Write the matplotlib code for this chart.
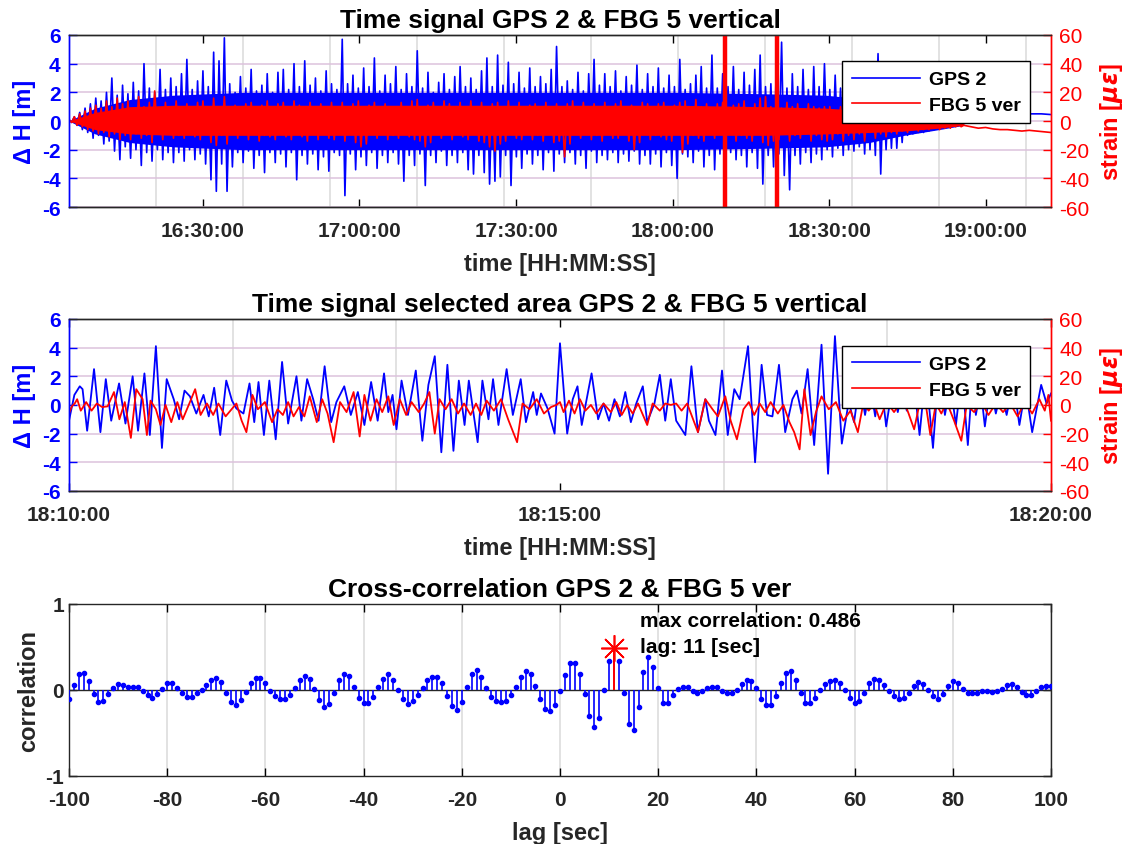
import numpy as np
import matplotlib
matplotlib.use("Agg")
import matplotlib.pyplot as plt
import matplotlib.dates as mdates
from matplotlib.ticker import FixedLocator
from matplotlib.lines import Line2D
from datetime import datetime, timedelta

plt.rcParams['font.family'] = ['Liberation Sans', 'DejaVu Sans']
plt.rcParams['font.weight'] = 'bold'
plt.rcParams['axes.titleweight'] = 'bold'
plt.rcParams['axes.labelweight'] = 'bold'
plt.rcParams['axes.unicode_minus'] = False
plt.rcParams['mathtext.fontset'] = 'dejavusans'

BLUE = '#0000ff'
RED = '#ff0000'
DARK = '#262626'
VGRID = '#dadada'
HGRID = '#dcc2dc'

# ---------------------------------------------------------------- data
day = datetime(2000, 1, 1)
overview_start = day + timedelta(hours=16, minutes=4, seconds=20)
overview_span_s = 11290          # length of the full record [s]
overview_step_s = 61.6           # one swing (peak + trough) per step [s]
overview_grid_s = 1000           # secondary grid spacing [s]

# GPS 2 vertical displacement: peak / trough of each swing [m]
gps_hi = [0.1, 0.3, 0.6, 0.9, 1.2, 1.6, 1.4, 2.0, 3.0, 1.8,
          2.5, 1.9, 2.7, 2.1, 4.0, 2.3, 2.0, 3.6, 2.2, 3.0,
          2.4, 3.3, 4.3, 2.2, 2.8, 3.5, 2.4, 4.8, 4.2, 5.8,
          2.6, 2.0, 3.1, 2.3, 3.6, 2.1, 2.5, 3.3, 2.0, 3.4,
          3.6, 2.2, 4.0, 2.4, 4.2, 2.5, 3.0, 2.1, 3.5, 2.6,
          2.2, 5.7, 2.6, 3.2, 2.3, 3.7, 2.4, 4.4, 2.1, 3.2,
          2.6, 3.8, 2.2, 3.3, 2.4, 4.9, 2.3, 3.4, 2.0, 2.7,
          3.3, 2.2, 3.1, 3.8, 2.4, 3.0, 2.2, 3.5, 4.4, 2.4,
          4.6, 2.5, 4.1, 2.6, 3.4, 2.3, 3.7, 2.4, 3.1, 2.6,
          3.6, 5.2, 2.4, 2.8, 2.2, 3.4, 2.1, 3.3, 4.3, 2.5,
          3.3, 2.4, 3.5, 2.1, 3.1, 2.5, 3.9, 2.2, 3.3, 2.4,
          3.7, 2.3, 3.2, 2.4, 4.3, 2.2, 2.6, 3.2, 3.8, 2.3,
          4.6, 2.3, 3.3, 2.4, 3.8, 2.2, 3.4, 2.5, 3.6, 4.6,
          2.4, 2.6, 3.5, 5.5, 2.3, 3.3, 2.4, 3.6, 2.2, 3.8,
          2.4, 4.0, 2.2, 3.2, 2.3, 2.8, 2.1, 3.0, 2.0, 2.5,
          2.3, 4.7, 2.4, 2.2, 2.0, 1.7, 1.3, 1.1, 1.0, 0.9,
          0.8, 0.7, 0.6, 0.6, 0.5, 0.5, 0.5]
gps_lo = [-0.1, -0.3, -0.6, -0.8, -1.2, -1.0, -1.6, -1.4, -2.1, -2.7,
          -1.8, -2.6, -2.0, -3.1, -2.2, -2.8, -2.0, -2.7, -2.2, -2.9,
          -2.2, -2.8, -2.0, -2.7, -2.3, -3.0, -4.1, -4.9, -3.0, -4.9,
          -3.2, -2.2, -2.9, -2.1, -3.3, -2.4, -3.6, -2.2, -2.9, -2.3,
          -3.2, -2.2, -4.1, -2.4, -3.0, -2.3, -3.4, -2.5, -3.5, -2.2,
          -2.4, -5.2, -2.3, -3.4, -2.5, -3.1, -2.2, -3.3, -2.4, -2.9,
          -2.2, -3.0, -4.2, -2.4, -3.1, -2.3, -4.5, -2.4, -2.9, -2.1,
          -3.1, -2.4, -2.9, -2.2, -3.4, -3.7, -2.4, -3.6, -4.4, -4.2,
          -3.9, -2.4, -4.5, -2.5, -3.3, -2.3, -3.0, -2.4, -3.4, -2.2,
          -3.5, -2.3, -2.9, -2.2, -3.0, -2.4, -3.3, -2.1, -2.9, -2.4,
          -2.7, -2.2, -2.9, -2.3, -2.8, -2.1, -3.0, -2.4, -3.0, -2.3,
          -3.2, -2.2, -3.1, -4.0, -2.3, -2.5, -2.9, -2.1, -3.2, -2.4,
          -3.4, -2.3, -2.7, -2.2, -2.7, -2.4, -3.2, -2.2, -3.3, -4.4,
          -2.4, -3.2, -2.3, -3.8, -4.8, -2.4, -3.0, -2.2, -2.9, -2.3,
          -2.7, -2.0, -2.5, -1.9, -2.4, -2.0, -2.1, -1.8, -2.3, -2.0,
          -2.4, -3.7, -2.0, -1.9, -1.9, -1.5, -1.0, -0.9, -0.8, -0.8,
          -0.7, -0.6, -0.5, -0.4, -0.3, -0.2, -0.1]
gps_tail = [0.5, 0.45, 0.5, 0.55, 0.5, 0.5, 0.45, 0.5, 0.5, 0.45]

# FBG 5 vertical strain: peak / trough of each swing [micro-strain]
fbg_hi = [1, 3, 5, 7, 9, 11, 9, 14, 10, 16, 12,
          14, 9, 17, 10, 13, 21, 9, 13, 10, 14,
          9, 12, 8, 13, 14, 9, 16, 10, 17, 9,
          11, 8, 12, 13, 9, 11, 14, 8, 12, 13,
          9, 14, 11, 8, 13, 10, 12, 8, 13, 9,
          13, 9, 12, 14, 8, 11, 13, 9, 12, 10,
          8, 13, 10, 14, 15, 9, 11, 13, 8, 14,
          12, 9, 13, 8, 14, 10, 13, 9, 12, 13,
          9, 14, 10, 13, 8, 11, 12, 9, 13, 10, 12,
          8, 12, 14, 9, 13, 10, 12, 8, 13, 10,
          12, 14, 9, 11, 8, 13, 12, 9, 12, 13,
          8, 11, 13, 14, 9, 15, 10, 12, 9, 12,
          13, 9, 11, 12, 14, 9, 12, 16, 17, 10,
          12, 9, 13, 10, 12, 8, 12, 10, 9, 10,
          10, 7, 10, 8, 9, 7, 8, 6, 8, 6,
          6, 5, 5, 4, 4, 3, 3, 2, 2, 2,
          1, 1, 0, 0, -1]
fbg_lo = [-1, -3, -4, -6, -7, -9, -8, -11, -9, -13, -10,
          -13, -9, -12, -10, -15, -9, -13, -8, -12, -10,
          -12, -8, -11, -13, -9, -15, -17, -10, -16, -9,
          -12, -9, -13, -8, -14, -10, -11, -13, -8, -11,
          -13, -9, -11, -14, -9, -13, -8, -12, -13, -9,
          -14, -9, -15, -18, -16, -9, -12, -8, -13, -10,
          -12, -9, -11, -13, -14, -18, -15, -9, -12, -8,
          -13, -9, -11, -13, -8, -14, -15, -18, -21, -16,
          -14, -9, -12, -13, -8, -13, -10, -14, -9, -15, -14,
          -25, -16, -9, -12, -8, -13, -10, -14, -9, -12,
          -12, -9, -14, -20, -15, -9, -13, -10, -11, -13,
          -14, -9, -22, -16, -10, -12, -14, -9, -12, -8,
          -13, -9, -14, -10, -12, -14, -9, -15, -17, -14,
          -13, -9, -14, -10, -12, -9, -14, -10, -13, -14,
          -13, -9, -14, -10, -13, -9, -14, -8, -12, -9,
          -11, -8, -9, -7, -8, -6, -7, -6, -6, -5,
          -6, -5, -5, -4, -4]
fbg_tail = [-3, -4, -5, -4.5, -5.5, -6, -6, -6.5, -7, -6.5, -7, -7.5, -8]

# extent of the densely filled band of each record
core_t = [0, 300, 700, 1200, 2000, 3000, 4000, 5000, 6000, 7000, 8000,
          8700, 9200, 9600, 10000, 10287]
gps_core = [0, 0.9, 1.5, 1.8, 2.0, 2.0, 2.0, 2.0, 2.0, 2.0, 1.9,
            1.8, 1.5, 1.0, 0.6, 0.3]
fbg_core_hi = [0, 6, 10, 11, 11, 11, 11, 11, 11, 11, 10, 9, 7, 5, 3, 0]
fbg_core_lo = [0, -6, -9, -10, -10, -10, -10, -10, -10, -10, -10, -9, -8, -7, -5, -3]

# selected ten-minute window
window_start = day + timedelta(hours=18, minutes=10)
window_span_s = 600
window_grid_s = 100

gps_win_t = [0.0, 3.3, 6.6, 8.3, 11.1, 15.3, 19.2, 22.5, 25.8, 30.6,
             34.5, 38.9, 42.2, 46.1, 49.4, 53.1, 56.8, 59.7, 64.0, 67.3,
             70.6, 73.9, 77.8, 82.2, 85.4, 88.7, 92.4, 96.1, 99.6, 102.3,
             106.6, 110.3, 113.2, 115.8, 119.1, 122.4, 126.3, 130.2, 133.9, 139.0,
             142.0, 145.5, 149.2, 152.5, 156.2, 160.2, 163.4, 168.2, 172.2, 176.5,
             180.5, 184.6, 188.6, 192.5, 195.1, 197.7, 200.1, 203.2, 207.1, 211.9,
             215.9, 219.6, 223.5, 227.5, 231.2, 234.9, 238.2, 241.7, 244.3, 249.7,
             252.6, 256.3, 259.1, 262.4, 267.4, 271.2, 276.0, 279.2, 283.6, 285.8,
             288.4, 292.4, 296.7, 300.0,
             304.4, 307.8, 310.7, 313.3, 319.3, 323.3, 326.6, 330.0, 333.3, 336.6,
             339.9, 343.3, 346.6, 350.6, 353.3, 357.7, 361.0, 364.3, 367.7, 371.0,
             376.6, 380.3, 384.3, 388.8, 391.0, 395.0, 399.0, 402.5, 406.5, 409.8,
             414.9, 419.2, 423.2, 426.5, 429.8, 433.8, 437.6, 442.0, 444.7, 447.6,
             451.3, 455.3, 459.8, 463.8, 468.0, 472.2, 476.4,
             479.7, 483.0, 486.4, 489.5, 492.6, 496.0, 499.3, 503.0, 506.4, 509.0,
             511.9, 516.0, 519.7, 523.5, 527.9, 531.5, 535.2, 538.5, 541.9, 545.5,
             549.2, 552.0, 554.1, 557.0, 559.6, 563.0, 566.3, 569.5, 572.9, 577.0,
             580.7, 584.5, 588.5, 594.0, 597.3, 600.0]
gps_win_v = [-1.1, 0.7, 1.3, 1.1, -1.8, 2.5, -1.9, 1.8, -1.1, 1.5,
             -1.3, 2.0, -1.8, 2.2, -2.1, 4.1, -3.0, 1.8, 0.4, -1.0,
             1.0, 0.6, -0.6, 0.7, -0.8, 1.2, -2.1, 1.7, 0.3, -0.25,
             -0.6, 1.5, -1.2, 1.6, -2.1, 1.7, -2.4, 3.0, -1.3, 2.0,
             -1.1, 1.8, 0.4, -1.1, 2.7, -1.2, 0.2, 1.3, -0.7, 0.9,
             -1.4, 1.6, -1.1, 2.2, -0.5, 0.7, -1.7, 1.7, -0.7, 2.4,
             -2.5, 1.4, 3.4, -3.3, 2.8, -3.2, 1.7, -1.4, 1.7, -2.6,
             1.7, -1.0, 1.8, -1.4, 2.5, -0.7, 1.8, -1.2, 0.9, -0.7,
             0.8, -0.25, -2.0, 4.3,
             -2.0, 0.4, 1.3, -1.4, 2.2, -1.0, 0.1, -1.1, 0.4, -0.8,
             0.9, -1.2, 0.1, 1.3, -1.2, 0.1, 2.1, -1.1, 1.8, -1.1,
             -2.1, 2.7, -1.9, 0.4, -1.1, -2.1, 2.4, -2.1, 1.1, 0.4,
             4.1, -4.0, 2.8, -0.7, -0.8, 2.8, -1.9, 0.4, 1.0, -0.6,
             2.5, -2.8, 4.2, -4.8, 4.8, -2.7, 0.2,
             -1.2, 1.6, -0.7, 1.4, -0.8, 1.8, -1.5, 1.2, -0.5, 1.0,
             -0.4, 1.9, -2.1, 2.4, -3.0, 2.6, -0.7, 1.5, -1.4, 2.2,
             -2.8, 1.8, -0.7, 1.2, -1.5, 1.4, -0.6, 1.0, -0.7, 1.6,
             -1.4, 1.2, -1.9, 1.4, 0.1, 0.8]

fbg_win_t = [0.0, 1.7, 3.5, 5.0, 7.2, 10.5, 13.8, 17.0, 20.3, 23.6,
             27.5, 30.8, 34.1, 37.8, 41.1, 45.0, 47.6, 49.8, 53.1, 55.9,
             59.0, 62.5, 66.2, 69.5, 73.9, 77.1, 80.4, 84.3, 88.1, 91.3,
             95.7, 102.3, 105.5, 108.4, 112.1, 115.4, 119.7, 124.1, 127.4, 130.7,
             133.9, 137.2, 140.5, 143.8, 147.1, 151.4, 154.7, 158.0, 161.7, 165.6,
             169.6, 173.9, 177.6, 180.5, 184.2, 187.9, 191.4, 195.1, 198.4, 202.1,
             206.0, 209.3, 213.7, 217.0, 220.2, 223.5, 226.4, 230.1, 233.8, 237.7,
             241.4, 245.4, 248.7, 251.9, 255.2, 259.6, 264.0, 268.3, 273.8, 277.1,
             281.4, 285.8, 290.2, 294.5, 297.8, 300.0,
             302.2, 305.5, 308.9, 312.2, 315.5, 318.9, 322.2, 326.6, 331.1, 334.4,
             337.7, 341.1, 344.4, 347.7, 353.3, 356.6, 361.0, 364.3, 367.7, 371.0,
             374.3, 377.7, 384.3, 388.8, 393.2, 396.5, 401.0, 404.3, 408.1, 412.1,
             415.4, 418.7, 422.0, 425.4, 428.7, 433.1, 436.5, 440.2, 443.1, 446.4,
             449.3, 453.1, 456.4, 459.8, 464.2, 468.6, 473.1, 477.5, 482.0, 485.3,
             488.6, 491.9, 495.3, 499.7, 504.1, 509.7, 513.0, 516.4, 519.7, 523.0,
             526.3, 529.7, 533.0, 536.3, 540.8, 545.2, 548.5, 553.0, 557.4, 561.8,
             566.3, 570.7, 575.1, 579.6, 584.0, 588.5, 592.9, 596.2, 598.4, 600.0]
fbg_win_v = [-6, -1, 1, 4, -4, 2, -4, 1, -1.5, -1,
             9, -10, 2, -23, 11, 4, -21, 3, -3, -14,
             0, -12, 2, -10, 2, 11, -7, 1, -7, 1,
             -8, 1, -11, -19, 7, -3, 2, -12, -3, -7,
             2, -8, -1.5, -8, 6, -12, 4, -6, -26, 2,
             -5, 9, -22, 7, -11, 4, -5, 6, -14, 4,
             -7, 2, -5, 1, 9, -20, 4, -3, 4, -6,
             1, -7, 1, -7, 3, -4, 4, -10, -26, 1,
             -3, 4, -6, -1.5, 0, 2,
             -5, 3, -6, 4, -4, 0, -6, 1, -5, 2,
             -7, 0, -6, 1, -14, 1, -4, 1, 0, 1,
             -4, 1, -19, 4, -3, -8, 6, -11, -24, -3,
             2, -7, 1, -5, 2, -6, 0, -12, -19, -31,
             11, -21, -5, 6, -3, 2, -11, -4, -19, 1,
             -4, 1, -10, 2, -5, 4, -6, -17, 1, 4,
             -21, 1, -6, 2, -11, -25, 0, -5, 2, -7,
             1, -5, 1, -8, 2, -6, 4, -4, 7, -11]

# cross-correlation of the selected window, lag -100 ... 100 s
lags = np.arange(-100, 101)
xcorr = [-0.10, 0.06, 0.19, 0.20, 0.10, -0.05, -0.14, -0.13, -0.05, 0.02,
         0.07, 0.06, 0.04, 0.035, 0.03, -0.01, -0.06, -0.09, -0.05, 0.015,
         0.08, 0.08, 0.02, -0.04, -0.085, -0.08, -0.035, 0.005, 0.06, 0.12,
         0.14, 0.09, -0.03, -0.14, -0.18, -0.12, -0.02, 0.08, 0.135, 0.135,
         0.08, -0.01, -0.07, -0.11, -0.105, -0.06, 0.02, 0.12, 0.16, 0.13,
         0.01, -0.12, -0.20, -0.16, -0.035, 0.12, 0.19, 0.16, 0.04, -0.09,
         -0.155, -0.15, -0.08, 0.03, 0.13, 0.18, 0.12, 0.005, -0.11, -0.16,
         -0.13, -0.06, 0.025, 0.11, 0.155, 0.15, 0.08, -0.07, -0.19, -0.23,
         -0.14, 0.03, 0.19, 0.23, 0.15, 0.02, -0.08, -0.13, -0.14, -0.125,
         -0.06, 0.035, 0.155, 0.22, 0.18, 0.045, -0.11, -0.22, -0.25, -0.175,
         -0.015,
         0.175, 0.31, 0.315, 0.19, -0.05, -0.30, -0.43, -0.33, -0.005, 0.34,
         0.486, 0.34, -0.04, -0.40, -0.47, -0.20, 0.21, 0.385, 0.265, 0.02,
         -0.15, -0.15, -0.06, 0.015, 0.04, 0.03, -0.01, -0.03, -0.01, 0.02,
         0.04, 0.03, -0.01, -0.04, -0.04, 0.005, 0.065, 0.11, 0.105, 0.02,
         -0.10, -0.18, -0.17, -0.065, 0.085, 0.195, 0.215, 0.115, -0.04, -0.15,
         -0.155, -0.09, 0.005, 0.065, 0.10, 0.115, 0.08, 0.005, -0.09, -0.15,
         -0.13, -0.03, 0.08, 0.13, 0.115, 0.06, -0.01, -0.065, -0.105, -0.095,
         -0.03, 0.045, 0.09, 0.07, 0.005, -0.065, -0.10, -0.045, 0.045, 0.10,
         0.08, 0.015, -0.035, -0.04, -0.03, -0.015, -0.015, -0.02, -0.015, 0.015,
         0.055, 0.065, 0.03, -0.02, -0.055, -0.055, -0.01, 0.03, 0.045, 0.045]


# ---------------------------------------------------------------- helpers
def to_num(start, seconds):
    return mdates.date2num(start) + np.asarray(seconds, float) / 86400.0


def swing_series(hi, lo, tail, step, span):
    n = len(hi)
    y = np.column_stack([hi, lo]).ravel()
    t = np.arange(2 * n) * step / 2.0
    t_tail = np.linspace(n * step, span, len(tail))
    return np.concatenate([t, t_tail]), np.concatenate([y, tail])


def style_dual(ax, axr, start, span, grid_s):
    ax.set_ylim(-6, 6)
    axr.set_ylim(-60, 60)
    ax.set_yticks(np.arange(-6, 7, 2))
    axr.set_yticks(np.arange(-60, 61, 20))
    ax.set_xlim(to_num(start, 0), to_num(start, span))
    ax.xaxis.set_major_formatter(mdates.DateFormatter('%H:%M:%S'))
    ax.xaxis.set_minor_locator(FixedLocator(to_num(start, np.arange(grid_s, span, grid_s))))
    ax.set_axisbelow(True)
    ax.grid(which='minor', axis='x', color=VGRID, lw=1.1)
    ax.grid(which='major', axis='y', color=HGRID, lw=1.1)
    ax.tick_params(axis='x', which='minor', length=0)
    ax.tick_params(axis='x', which='major', direction='in', length=6, width=1.0,
                   top=True, color='black', labelcolor=DARK, labelsize=15, pad=10)
    ax.tick_params(axis='y', direction='in', length=6, width=1.0, colors=BLUE,
                   labelsize=15, pad=6)
    axr.tick_params(axis='y', direction='in', length=6, width=1.0, colors=RED,
                    labelsize=15, pad=6)
    for lbl in axr.get_yticklabels():
        lbl.set_fontweight('normal')
    for a in (ax, axr):
        a.spines['left'].set_color(BLUE)
        a.spines['right'].set_color(RED)
        a.spines['top'].set_color(DARK)
        a.spines['bottom'].set_color(DARK)
        for s in a.spines.values():
            s.set_linewidth(1.0)
    ax.set_ylabel('Δ H [m]', color=BLUE, fontsize=17, labelpad=4)
    axr.set_ylabel('strain [$\\mu\\epsilon$]', color=RED, fontsize=17, labelpad=6)
    ax.set_xlabel('time [HH:MM:SS]', color=DARK, fontsize=17, labelpad=9)


def add_legend(axr, anchor):
    handles = [Line2D([], [], color=BLUE, lw=1.2), Line2D([], [], color=RED, lw=1.2)]
    leg = axr.legend(handles, ['GPS 2', 'FBG 5 ver'], loc='upper right',
                     bbox_to_anchor=anchor, fontsize=14, frameon=True,
                     fancybox=False, framealpha=1, edgecolor='black',
                     handlelength=3.5, handletextpad=0.45, labelspacing=0.4,
                     borderpad=0.5, borderaxespad=0)
    leg.get_frame().set_linewidth(1.0)


fig = plt.figure(figsize=(11.29, 8.45), dpi=100)
fig.patch.set_facecolor('white')

# ---------------------------------------------------------------- full record
ax1 = fig.add_axes([0.0611, 0.7538, 0.8698, 0.2036])
ax1r = ax1.twinx()
t_g, y_g = swing_series(gps_hi, gps_lo, gps_tail, overview_step_s, overview_span_s)
t_f, y_f = swing_series(fbg_hi, fbg_lo, fbg_tail, overview_step_s, overview_span_s)
t_core = to_num(overview_start, core_t)
gc = np.asarray(gps_core)
ax1.fill_between(t_core, -gc, gc, color=BLUE, lw=0)
ax1.plot(to_num(overview_start, t_g), y_g, color=BLUE, lw=1.2)
ax1r.fill_between(t_core, fbg_core_lo, fbg_core_hi, color=RED, lw=0)
ax1r.plot(to_num(overview_start, t_f), y_f, color=RED, lw=1.2)
window_edges = to_num(window_start, [0, window_span_s])
for xe in window_edges:
    ax1r.axvline(xe, color=RED, lw=3.2)
ax1.xaxis.set_major_locator(mdates.MinuteLocator(byminute=[0, 30]))
style_dual(ax1, ax1r, overview_start, overview_span_s, overview_grid_s)
ax1.set_title('Time signal GPS 2 & FBG 5 vertical', fontsize=19, pad=6)
add_legend(ax1r, (0.979, 0.849))

# ---------------------------------------------------------------- selected window
ax2 = fig.add_axes([0.0611, 0.4178, 0.8698, 0.2036])
ax2r = ax2.twinx()
ax2.plot(to_num(window_start, gps_win_t), gps_win_v, color=BLUE, lw=1.3)
ax2r.plot(to_num(window_start, fbg_win_t), fbg_win_v, color=RED, lw=1.3)
ax2.xaxis.set_major_locator(mdates.MinuteLocator(byminute=range(0, 60, 5)))
style_dual(ax2, ax2r, window_start, window_span_s, window_grid_s)
ax2.set_title('Time signal selected area GPS 2 & FBG 5 vertical', fontsize=19, pad=6)
add_legend(ax2r, (0.979, 0.843))

# ---------------------------------------------------------------- cross-correlation
ax3 = fig.add_axes([0.0611, 0.0805, 0.8698, 0.2036])
xc = np.asarray(xcorr)
i_max = int(np.argmax(xc))
ax3.set_axisbelow(True)
ax3.grid(axis='x', color=VGRID, lw=1.1)
ax3.axhline(0, color=DARK, lw=1.0, zorder=2)
ax3.vlines(lags, 0, xc, color=BLUE, lw=1.2, zorder=3)
ax3.plot(lags, xc, 'o', color=BLUE, ms=3.0, zorder=4)
ax3.vlines(lags[i_max], 0, xc[i_max], color=RED, lw=1.4, zorder=5)
ax3.plot(lags[i_max], xc[i_max], marker=(8, 2, 0), color=RED, ms=19, mew=1.2, zorder=6)
ax3.text(lags[i_max] + 5.3, 0.915,
         f'max correlation: {xc[i_max]:.3f}\nlag: {lags[i_max]} [sec]',
         fontsize=15, va='top', ha='left', color='black', linespacing=1.45)
ax3.set_xlim(-100, 100)
ax3.set_ylim(-1, 1)
ax3.set_xticks(np.arange(-100, 101, 20))
ax3.set_yticks([-1, 0, 1])
ax3.tick_params(axis='both', direction='in', length=6, width=1.0, top=True, right=True,
                color='black', labelcolor=DARK, labelsize=15)
ax3.tick_params(axis='x', pad=10)
for s in ax3.spines.values():
    s.set_color(DARK)
    s.set_linewidth(1.0)
ax3.set_title('Cross-correlation GPS 2 & FBG 5 ver', fontsize=19, pad=6)
ax3.set_xlabel('lag [sec]', color=DARK, fontsize=17, labelpad=9)
ax3.set_ylabel('correlation', color=DARK, fontsize=17, labelpad=4)

fig.savefig('out.png', dpi=100, facecolor='white')
